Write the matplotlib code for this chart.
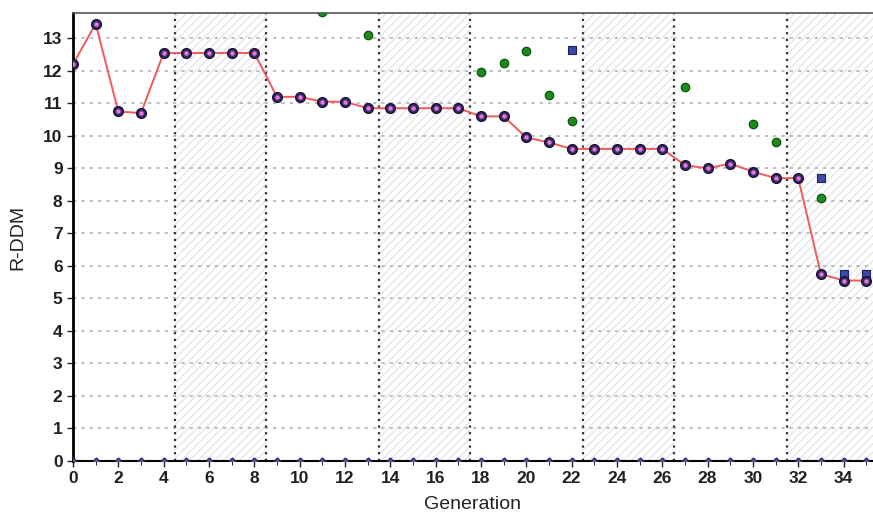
import numpy as np
import matplotlib.pyplot as plt

plt.rcParams['font.family'] = ['Liberation Sans', 'DejaVu Sans']
plt.rcParams['hatch.linewidth'] = 0.8

# best R-DDM per generation (red line)
generations = list(range(0, 36))
best = [12.2, 13.45, 10.75, 10.7, 12.55, 12.55, 12.55, 12.55, 12.55,
        11.2, 11.2, 11.05, 11.05, 10.85, 10.85, 10.85, 10.85, 10.85,
        10.6, 10.6, 9.95, 9.8, 9.6, 9.6, 9.6, 9.6, 9.6,
        9.1, 9.0, 9.15, 8.9, 8.7, 8.7, 5.75, 5.55, 5.55]

# green points
green_x = [11, 13, 18, 19, 20, 21, 22, 27, 30, 31, 33]
green_y = [13.8, 13.1, 11.95, 12.25, 12.6, 11.25, 10.45, 11.5, 10.35, 9.8, 8.1]

# blue squares
blue_x = [22, 33, 34, 35]
blue_y = [12.65, 8.7, 5.75, 5.75]

# bottom series (zeros)
zero_x = list(range(0, 36))
zero_y = [0] * 36

# shaded generation blocks
blocks = [(4.5, 8.5), (13.5, 17.5), (22.5, 26.5), (31.5, 36)]
boundaries = [4.5, 8.5, 13.5, 17.5, 22.5, 26.5, 31.5]

fig = plt.figure(figsize=(8.73, 5.15), dpi=100)
ax = fig.add_axes([0.0836, 0.1049, 0.9164, 0.8699])

for a, b in blocks:
    ax.axvspan(a, b, facecolor='white', edgecolor='#dcdfea', hatch='////', linewidth=0, zorder=0)

for y in range(1, 14):
    ax.axhline(y, color='#b4b4b4', linestyle=(0, (2, 3)), linewidth=1.2, zorder=1)
for x in boundaries:
    ax.axvline(x, color='#303030', linestyle=(0, (1, 2)), linewidth=1.6, zorder=1)

ax.plot(zero_x, zero_y, color='#303050', linestyle=(0, (2, 2)), linewidth=1.0,
        marker='D', markersize=3.5, markerfacecolor='#5a5aa0', markeredgecolor='#2a2a60', zorder=3)

ax.scatter(green_x, green_y, s=38, color='#1e8a1e', edgecolor='#0a4a0a', linewidth=0.8, zorder=4)
ax.scatter(blue_x, blue_y, s=34, marker='s', color='#3a4aa8', edgecolor='#1a2060', linewidth=0.8, zorder=4)

ax.plot(generations, best, color='#f25a5a', linewidth=1.4, zorder=5)
ax.plot(generations, best, linestyle='none', marker='o', markersize=7,
        markerfacecolor='#3a2a6a', markeredgecolor='#1a1030', markeredgewidth=1.0, zorder=6)
ax.plot(generations, best, linestyle='none', marker='o', markersize=3.2,
        markerfacecolor='#e878d8', markeredgecolor='none', zorder=7)

ax.set_xlim(0, 35.3)
ax.set_ylim(0, 13.78)
ax.set_xticks(range(0, 35, 2))
ax.set_xticks(range(0, 36), minor=True)
ax.set_yticks(range(0, 14))

ax.tick_params(axis='both', labelsize=12.5, colors='#222222', length=4, width=1)
ax.tick_params(axis='x', which='minor', length=3)
for lab in ax.get_xticklabels() + ax.get_yticklabels():
    lab.set_fontweight('bold')
    lab.set_color('#202020')

ax.spines['right'].set_visible(False)
ax.spines['left'].set_linewidth(2)
ax.spines['bottom'].set_linewidth(1.5)
ax.spines['top'].set_color('#555555')
ax.spines['top'].set_linewidth(1.2)

ax.set_xlabel('Generation', fontsize=14, color='#222222', labelpad=7)
ax.set_ylabel('R-DDM', fontsize=14, color='#222222', labelpad=12)

fig.savefig('out.png', dpi=100)
